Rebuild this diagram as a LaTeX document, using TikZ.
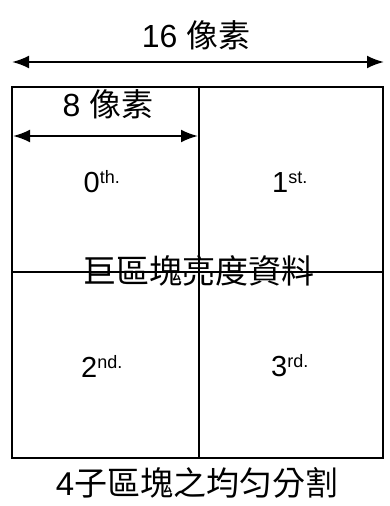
\documentclass[tikz,border=0pt]{standalone}
\usepackage{fontspec}
\setmainfont{Liberation Sans}
\newfontfamily\cjk{Noto Sans CJK TC}
\usetikzlibrary{arrows.meta}
\tikzset{
  dim/.style={line width=2.2pt,{Latex[length=17pt,width=13pt]}-{Latex[length=17pt,width=13pt]}},
  grid/.style={line width=2.4pt},
  lbl/.style={font=\fontsize{29}{31}\selectfont, inner sep=0pt},
  cjklbl/.style={font=\fontsize{32}{34}\selectfont\cjk, inner sep=0pt}
}
\begin{document}
\begin{tikzpicture}[x=1pt,y=-1pt]
\useasboundingbox (0,0) rectangle (390,506);
\coordinate (TL) at (12,87);
\coordinate (BR) at (383,458);
\coordinate (TM) at (199,87);
\coordinate (BM) at (199,458);
\coordinate (ML) at (12,272);
\coordinate (MR) at (383,272);
\draw[grid] (TL) rectangle (BR);
\draw[grid] (TM) -- (BM);
\draw[grid] (ML) -- (MR);
\coordinate (a1) at (12,62);
\coordinate (a2) at (384,62);
\draw[dim] (a1) -- (a2);
\coordinate (b1) at (13,136);
\coordinate (b2) at (198,136);
\draw[dim] (b1) -- (b2);
\node[cjklbl] (t16) at (196,35) {\fontspec{Liberation Sans}16 \cjk 像素};
\node[cjklbl] (t8) at (108,104) {\fontspec{Liberation Sans}8 \cjk 像素};
\node[lbl] (q0) at (102,182) {0\textsuperscript{\fontsize{18}{20}\selectfont th.}};
\node[lbl] (q1) at (290,182) {1\textsuperscript{\fontsize{18}{20}\selectfont st.}};
\node[lbl] (q2) at (102,366) {2\textsuperscript{\fontsize{18}{20}\selectfont nd.}};
\node[lbl] (q3) at (290,366) {3\textsuperscript{\fontsize{18}{20}\selectfont rd.}};
\node[cjklbl,font=\fontsize{33}{35}\selectfont\cjk] (mid) at (199,271) {巨區塊亮度資料};
\node[cjklbl,font=\fontsize{33}{35}\selectfont\cjk] (bot) at (197,483) {\fontspec{Liberation Sans}4\cjk 子區塊之均匀分割};
\end{tikzpicture}
\end{document}
